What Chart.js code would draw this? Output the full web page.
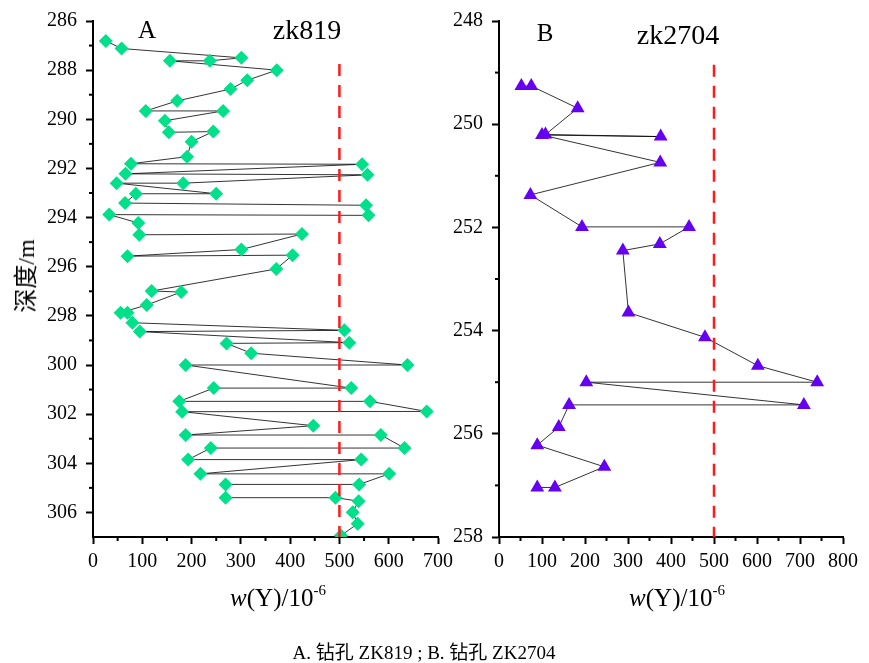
<!DOCTYPE html>
<html>
<head>
<meta charset="utf-8">
<script src="https://cdn.jsdelivr.net/npm/chart.js@4.4.0/dist/chart.umd.min.js"></script>
<style>
  body { margin: 0; background: #fff; }
  #wrap { position: relative; width: 869px; height: 663px; overflow: hidden; }
  canvas { position: absolute; left: 0; top: 0; }
  .txt { position: absolute; font-family: 'Liberation Serif', 'Noto Sans CJK SC', serif; color: #000; line-height: 1; white-space: nowrap; }
</style>
</head>
<body>
<div id="wrap">
  <canvas id="chartA" width="869" height="663"></canvas>
  <canvas id="chartB" width="869" height="663"></canvas>
  <div class="txt" style="left:147px;top:17px;font-size:25px;transform:translateX(-50%)">A</div>
  <div class="txt" style="left:307px;top:16px;font-size:28px;transform:translateX(-50%)">zk819</div>
  <div class="txt" style="left:545px;top:20px;font-size:25px;transform:translateX(-50%)">B</div>
  <div class="txt" style="left:678px;top:21px;font-size:28px;transform:translateX(-50%)">zk2704</div>
  <div class="txt" style="left:26px;top:276px;font-size:24px;transform:translate(-50%,-50%) rotate(-90deg)">深度/m</div>
  <div class="txt" style="left:278px;top:583px;font-size:25px;transform:translateX(-50%)"><i>w</i>(Y)/10<sup style="font-size:15px;vertical-align:11px">-6</sup></div>
  <div class="txt" style="left:677px;top:583px;font-size:25px;transform:translateX(-50%)"><i>w</i>(Y)/10<sup style="font-size:15px;vertical-align:11px">-6</sup></div>
  <div class="txt" style="left:424px;top:643px;font-size:19px;transform:translateX(-50%)">A. 钻孔 ZK819 ; B. 钻孔 ZK2704</div>
</div>
<script>
// 钻孔 ZK819: 深度 (m) 和 w(Y) (10^-6), 按连线顺序
const depthA = [286.81, 287.12, 287.50, 287.62, 287.62, 288.00, 288.41, 288.77, 289.25, 289.66,
  289.66, 290.06, 290.53, 290.50, 290.91, 291.52, 291.81, 291.83, 292.22, 292.26,
  292.60, 292.60, 293.03, 293.03, 293.41, 293.50, 293.91, 293.88, 294.22, 294.70,
  294.67, 295.30, 295.57, 295.53, 296.09, 296.99, 297.03, 297.56, 297.87, 297.87,
  298.28, 298.59, 298.64, 299.09, 299.12, 299.52, 300.00, 300.00, 300.94, 300.94,
  301.48, 301.48, 301.89, 301.90, 302.47, 302.85, 302.85, 303.38, 303.38, 303.85,
  303.85, 304.43, 304.43, 304.86, 304.86, 305.40, 305.40, 305.54, 305.99, 306.46, 306.94]
const yA = [26, 58, 301, 237, 156, 373, 313, 279, 171, 107,
  264, 146, 154, 244, 200, 191, 77, 546, 66, 557,
  183, 48, 250, 87, 65, 554, 559, 33, 92, 94,
  424, 301, 70, 405, 372, 119, 179, 109, 56, 70,
  80, 510, 95, 520, 271, 321, 638, 188, 524, 245,
  175, 562, 677, 181, 447, 188, 584, 632, 239, 193,
  544, 218, 601, 540, 269, 269, 492, 539, 527, 537, 503]

// 钻孔 ZK2704
const depthB = [249.26, 249.26, 249.69, 250.20, 250.24, 250.21, 250.74, 251.37, 251.99, 251.99,
  252.32, 252.45, 253.65, 254.13, 254.68, 255.00, 255.00, 255.44, 255.44, 255.87,
  256.22, 256.64, 257.04, 257.04]
const yB = [52, 75, 183, 108, 376, 100, 375, 73, 193, 442,
  374, 288, 301, 479, 602, 740, 203, 709, 163, 139,
  89, 245, 130, 89]

// 500 x10^-6 参考线
const limitValue = 500
const limitDepthA = [287.75, 307]
const limitDepthB = [248.85, 258]

const xTicksA = [0, 100, 200, 300, 400, 500, 600, 700]
const yTicksA = [286, 288, 290, 292, 294, 296, 298, 300, 302, 304, 306]
const xTicksB = [0, 100, 200, 300, 400, 500, 600, 700, 800]
const yTicksB = [248, 250, 252, 254, 256, 258]

const fuente = { family: "'Liberation Serif', 'Times New Roman', serif", size: 20 }
Chart.defaults.font.family = fuente.family
Chart.defaults.font.size = 20
Chart.defaults.color = '#000'

const minorTicks = {
  id: 'minorTicks',
  afterDraw(chart, args, opts) {
    const ctx = chart.ctx
    const xs = chart.scales.x, ys = chart.scales.y
    ctx.save()
    ctx.strokeStyle = '#000'
    ctx.lineWidth = 2
    opts.x.forEach(function(v){
      const px = xs.getPixelForValue(v)
      ctx.beginPath(); ctx.moveTo(px, xs.top); ctx.lineTo(px, xs.top + 4); ctx.stroke()
    })
    opts.y.forEach(function(v){
      const py = ys.getPixelForValue(v)
      ctx.beginPath(); ctx.moveTo(ys.right, py); ctx.lineTo(ys.right - 4, py); ctx.stroke()
    })
    ctx.restore()
  }
}

function puntos(depths, values){
  return depths.map(function(d, i){ return {x: values[i], y: d} })
}

function rango(desde, hasta, paso){
  let r = []
  for (let v = desde; v <= hasta + 1e-9; v += paso) r.push(v)
  return r
}

function graficar(canvasId, cfg){
  const escalaX = {
    type: 'linear', min: 0, max: cfg.xMax,
    afterBuildTicks: function(s){ s.ticks = cfg.xTicks.map(function(v){ return {value: v} }) },
    afterFit: function(s){ s.height = 40 },
    ticks: { padding: 6, maxRotation: 0, autoSkip: false, font: fuente, color: '#000' },
    grid: { drawOnChartArea: false, drawTicks: true, tickLength: 7, tickWidth: 2, tickColor: '#000', color: '#000' },
    border: { display: true, color: '#000', width: 2 }
  }
  const escalaY = {
    type: 'linear', reverse: true, min: cfg.yMin, max: cfg.yMax,
    afterBuildTicks: function(s){ s.ticks = cfg.yTicks.map(function(v){ return {value: v} }) },
    afterFit: function(s){ s.width = cfg.left },
    ticks: { padding: 9, autoSkip: false, font: fuente, color: '#000' },
    grid: { drawOnChartArea: false, drawTicks: true, tickLength: 7, tickWidth: 2, tickColor: '#000', color: '#000' },
    border: { display: true, color: '#000', width: 2 }
  }
  return new Chart(document.getElementById(canvasId), {
    type: 'scatter',
    data: {
      datasets: [{
        data: cfg.limitDepth.map(function(d){ return {x: limitValue, y: d} }),
        showLine: true, borderColor: '#ff1a1a', borderWidth: 2.5, borderDash: [12, 9],
        pointRadius: 0
      }, {
        data: puntos(cfg.depths, cfg.values),
        showLine: true, borderColor: 'rgba(0,0,0,0.8)', borderWidth: 1,
        pointStyle: cfg.pointStyle, pointRadius: cfg.pointRadius,
        pointBackgroundColor: cfg.color, pointBorderColor: cfg.color, pointBorderWidth: 0
      }]
    },
    options: {
      responsive: false, animation: false,
      layout: { padding: { left: 0, top: 19, right: 869 - cfg.right, bottom: 663 - 537 - 40 } },
      plugins: {
        legend: { display: false }, tooltip: { enabled: false },
        minorTicks: { x: cfg.xMinor, y: cfg.yMinor }
      },
      scales: { x: escalaX, y: escalaY }
    },
    plugins: [minorTicks]
  })
}

graficar('chartA', {
  depths: depthA, values: yA, limitDepth: limitDepthA,
  xMax: 700, yMin: 286, yMax: 307, xTicks: xTicksA, yTicks: yTicksA,
  xMinor: rango(50, 650, 100), yMinor: rango(287, 305, 2),
  left: 93, right: 438, pointStyle: 'rectRot', pointRadius: 7, color: '#00e08a'
})

graficar('chartB', {
  depths: depthB, values: yB, limitDepth: limitDepthB,
  xMax: 800, yMin: 248, yMax: 258, xTicks: xTicksB, yTicks: yTicksB,
  xMinor: rango(50, 750, 100), yMinor: rango(249, 257, 2),
  left: 499, right: 843, pointStyle: 'triangle', pointRadius: 8, color: '#6600f2'
})
</script>
</body>
</html>
